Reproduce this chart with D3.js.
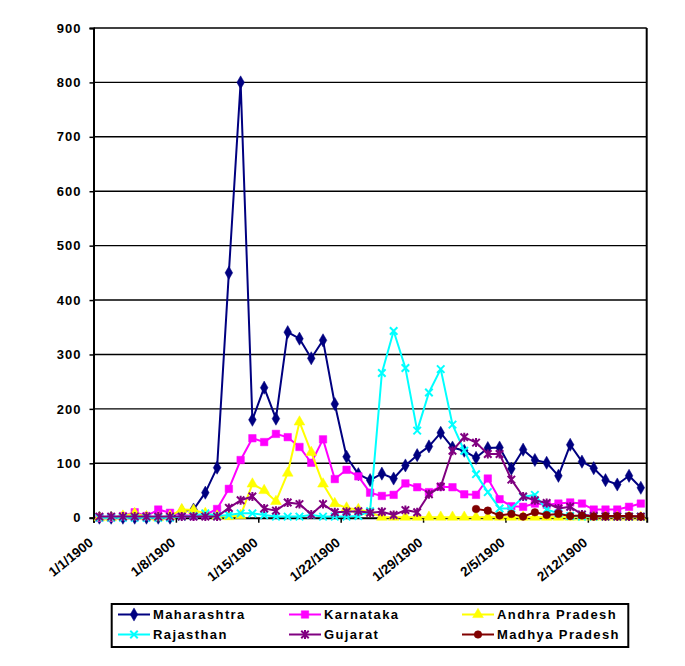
<!DOCTYPE html>
<html><head><meta charset="utf-8">
<script src="https://cdn.jsdelivr.net/npm/d3@7"></script>
<style>
body{margin:0;background:#fff}
text{font-family:"Liberation Sans",Arial,sans-serif;font-weight:bold;fill:#000}
</style>
</head><body>
<svg id="c" width="685" height="666"></svg>
<script>
// ---- data ----
const startDate = new Date(1900, 0, 1);
const endDate = new Date(1900, 1, 17); // exclusive end (last point 2/16/1900)
const categories = d3.timeDay.range(startDate, endDate); // 47 daily categories
const tickLabels = ["1/1/1900","1/8/1900","1/15/1900","1/22/1900","1/29/1900","2/5/1900","2/12/1900"];
const yTicks = [0,100,200,300,400,500,600,700,800,900];
const seriesNames = ["Maharashtra","Karnataka","Andhra Pradesh","Rajasthan","Gujarat","Madhya Pradesh"];

const maharashtra = [0,0,0,0,0,0,0,12,15,46,92,450,800,180,239,182,341,329,293,326,209,112,80,69,81,72,96,115,131,156,129,123,110,128,129,90,125,106,101,77,134,103,91,69,61,77,55];
const karnataka   = [0,0,3,10,3,15,9,5,3,5,16,53,106,146,139,154,148,130,101,144,71,88,76,46,40,42,63,56,47,57,56,43,42,72,34,21,20,26,24,26,28,26,15,15,15,20,26];
const andhra      = [0,0,3,8,2,0,3,15,14,8,3,2,4,62,50,30,82,176,120,62,26,18,15,10,1,1,1,1,1,1,1,1,1,1,1,1,1,1,1,1,1,1,1,1,1,1,1];
const rajasthan   = [0,0,0,0,0,0,0,2,3,8,3,5,8,8,5,2,2,2,5,2,2,2,3,12,266,343,275,160,230,273,171,123,80,47,17,17,38,42,15,8,3,2,2,2,2,2,2];
const gujarat     = [2,2,2,2,2,2,2,2,2,2,2,18,32,39,17,13,28,25,6,25,10,11,12,9,11,5,14,10,43,57,123,148,138,117,117,70,39,32,27,17,20,6,3,2,2,2,2];
const madhya      = [null,null,null,null,null,null,null,null,null,null,null,null,null,null,null,null,null,null,null,null,null,null,null,null,null,null,null,null,null,null,null,null,16,13,4,7,2,10,5,7,3,4,2,3,3,3,2];

const seriesValues = [maharashtra, karnataka, andhra, rajasthan, gujarat, madhya];
const colors = ["#000080","#FF00FF","#FFFF00","#00FFFF","#800080","#800000"];

// ---- layout ----
const L = 93.5, R = 646.7, T = 28, B = 517.7;
const svg = d3.select("#c");

const x = d3.scaleTime().domain([startDate, endDate]).range([L, R]);
const y = d3.scaleLinear().domain([0, 900]).range([B, T]);
const parse = d3.timeParse("%m/%d/%Y");
const fmt = d3.timeFormat("%-m/%-d/%Y");
const px = d => x(d3.timeHour.offset(d, 12));

// gridlines
svg.append("g").selectAll("line").data(yTicks.filter(v => v > 0)).join("line")
  .attr("x1", L).attr("x2", R).attr("y1", d => y(d)).attr("y2", d => y(d))
  .attr("stroke", "#000").attr("stroke-width", 1.4);

// right border
svg.append("line").attr("x1", R).attr("x2", R).attr("y1", T).attr("y2", B)
  .attr("stroke", "#000").attr("stroke-width", 2);

// y axis
const yAxis = svg.append("g").attr("transform", `translate(${L},0)`)
  .call(d3.axisLeft(y).tickValues(yTicks).tickSize(4).tickPadding(8).tickFormat(d3.format("d")));
yAxis.select(".domain").attr("stroke-width", 2);
yAxis.selectAll(".tick line").attr("stroke-width", 1.5);
yAxis.selectAll("text").style("font-size", "13px").style("letter-spacing", "1px").attr("fill", "#000");
yAxis.attr("font-family", null);

// x axis
const xAxis = svg.append("g").attr("transform", `translate(0,${B})`)
  .call(d3.axisBottom(x).tickValues(tickLabels.map(parse)).tickSize(5).tickFormat(fmt));
xAxis.select(".domain").attr("stroke-width", 2);
xAxis.selectAll(".tick line").attr("stroke-width", 1.5);
xAxis.attr("font-family", null);
xAxis.selectAll("text")
  .style("font-size", "13.5px")
  .attr("fill", "#000")
  .attr("text-anchor", "end")
  .attr("dy", null).attr("y", 0)
  .attr("transform", "translate(0,26.5) rotate(-39)");

// symbols
const symX = { draw(ctx, size) { const r = Math.sqrt(size) / 2;
  ctx.moveTo(-r, -r); ctx.lineTo(r, r); ctx.moveTo(r, -r); ctx.lineTo(-r, r); } };
const symStar = { draw(ctx, size) { const r = Math.sqrt(size) / 2;
  ctx.moveTo(-r, -r); ctx.lineTo(r, r); ctx.moveTo(r, -r); ctx.lineTo(-r, r);
  ctx.moveTo(0, -r * 1.2); ctx.lineTo(0, r * 1.2); } };
const markers = [
  { type: d3.symbolDiamond, size: 50, stroke: false },
  { type: d3.symbolSquare, size: 56, stroke: false },
  { type: d3.symbolTriangle, size: 50, stroke: false },
  { type: symX, size: 56, stroke: true },
  { type: symStar, size: 56, stroke: true },
  { type: d3.symbolCircle, size: 46, stroke: false }
];

const line = d3.line().defined(d => d.v != null).x(d => px(d.d)).y(d => y(d.v));

seriesValues.forEach((vals, si) => {
  const pts = categories.map((d, i) => ({ d, v: vals[i] }));
  const g = svg.append("g");
  g.append("path").datum(pts).attr("d", line)
    .attr("fill", "none").attr("stroke", colors[si]).attr("stroke-width", 2).attr("stroke-linejoin", "round");
  const m = markers[si];
  const sym = d3.symbol().type(m.type).size(m.size);
  g.selectAll("path.mk").data(pts.filter(p => p.v != null)).join("path").attr("class", "mk")
    .attr("transform", p => `translate(${px(p.d)},${y(p.v)})`)
    .attr("d", sym())
    .attr("fill", m.stroke ? "none" : colors[si])
    .attr("stroke", colors[si]).attr("stroke-width", m.stroke ? 2 : 0.5);
});

// legend
const lg = svg.append("g");
lg.append("rect").attr("x", 111.7).attr("y", 604).attr("width", 516.6).attr("height", 43)
  .attr("fill", "#fff").attr("stroke", "#000").attr("stroke-width", 2);
const colX = [118, 289, 462];
const rowY = [614.5, 634.5];
seriesNames.forEach((name, si) => {
  const cx = colX[si % 3], cy = rowY[Math.floor(si / 3)];
  const m = markers[si];
  lg.append("line").attr("x1", cx).attr("x2", cx + 32).attr("y1", cy).attr("y2", cy)
    .attr("stroke", colors[si]).attr("stroke-width", 2);
  lg.append("path").attr("transform", `translate(${cx + 16},${cy})`)
    .attr("d", d3.symbol().type(m.type).size(m.size)())
    .attr("fill", m.stroke ? "none" : colors[si])
    .attr("stroke", colors[si]).attr("stroke-width", m.stroke ? 2 : 0.5);
  lg.append("text").attr("x", cx + 35).attr("y", cy).attr("dy", "0.36em")
    .style("font-size", "13px").style("letter-spacing", "1.4px").text(name);
});
</script>
</body></html>
